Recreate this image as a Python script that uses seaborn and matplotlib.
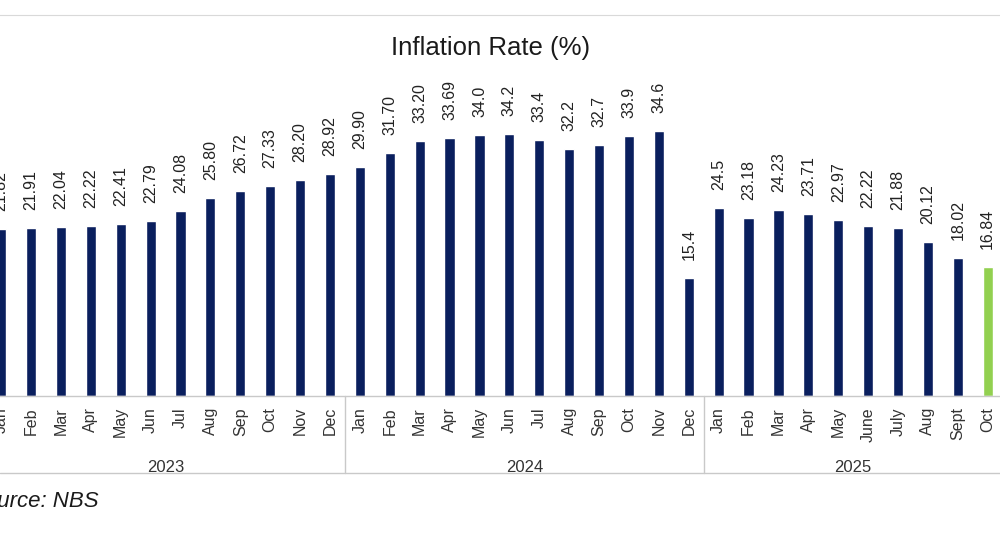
import numpy as np
import pandas as pd
import matplotlib.pyplot as plt
import seaborn as sns

# monthly headline inflation, %
years = ['2023', '2024', '2025']
months_2023 = ['Jan', 'Feb', 'Mar', 'Apr', 'May', 'Jun', 'Jul', 'Aug', 'Sep', 'Oct', 'Nov', 'Dec']
months_2024 = ['Jan', 'Feb', 'Mar', 'Apr', 'May', 'Jun', 'Jul', 'Aug', 'Sep', 'Oct', 'Nov', 'Dec']
months_2025 = ['Jan', 'Feb', 'Mar', 'Apr', 'May', 'June', 'July', 'Aug', 'Sept', 'Oct']
rates_2023 = ['21.82', '21.91', '22.04', '22.22', '22.41', '22.79', '24.08', '25.80', '26.72', '27.33', '28.20', '28.92']
rates_2024 = ['29.90', '31.70', '33.20', '33.69', '34.0', '34.2', '33.4', '32.2', '32.7', '33.9', '34.6', '15.4']
rates_2025 = ['24.5', '23.18', '24.23', '23.71', '22.97', '22.22', '21.88', '20.12', '18.02', '16.84']

navy = '#0a1f5e'
green = '#92d050'
grid_grey = '#c9c9c9'

months = months_2023 + months_2024 + months_2025
rate_txt = rates_2023 + rates_2024 + rates_2025
year_of = [years[0]] * len(months_2023) + [years[1]] * len(months_2024) + [years[2]] * len(months_2025)
keys = [f'{y}-{m}' for y, m in zip(year_of, months)]
data = pd.DataFrame({'key': keys, 'rate': [float(s) for s in rate_txt]})
colors = [navy] * (len(keys) - 1) + [green]   # latest month highlighted

sns.set_style('white')
plt.rcParams['font.family'] = ['Liberation Sans', 'DejaVu Sans']

fig = plt.figure(figsize=(10, 5.36), dpi=100)
ax = fig.add_axes([0, 140 / 536, 1, 381 / 536])

sns.barplot(data=data, x='key', y='rate', hue='key', palette=colors,
            width=0.34, saturation=1, legend=False, ax=ax)

# value labels
for i, (v, s) in enumerate(zip(data['rate'], rate_txt)):
    ax.annotate(s, (i, v), xytext=(0, 13), textcoords='offset points',
                rotation=90, ha='center', va='bottom', fontsize=11.5, color='#222222')

ax.set_xlim(-0.037, 33.41)
ax.set_ylim(0, 49.7)
ax.set_xticks(range(len(months)))
ax.set_xticklabels(months, rotation=90, fontsize=11.5, color='#333333')
ax.tick_params(axis='x', length=0, pad=8)
ax.set_yticks([])
ax.set_xlabel('')
ax.set_ylabel('')

for side in ['left', 'right']:
    ax.spines[side].set_visible(False)
ax.spines['bottom'].set_color(grid_grey)
ax.spines['top'].set_color('#d9d9d9')
ax.spines['bottom'].set_linewidth(1)

# year grouping under the month labels
trans = ax.get_xaxis_transform()
y_bot = -77 / 381
ax.plot([0, 1], [y_bot, y_bot], transform=ax.transAxes, color=grid_grey, lw=1, clip_on=False)
n1, n2, n3 = len(months_2023), len(months_2024), len(months_2025)
for sep in [n1 - 0.5, n1 + n2 - 0.5]:
    ax.plot([sep, sep], [0, y_bot], transform=trans, color=grid_grey, lw=1, clip_on=False)
starts = [0, n1, n1 + n2]
sizes = [n1, n2, n3]
for yr, st, sz in zip(years, starts, sizes):
    ax.text(st + (sz - 1) / 2, -75.5 / 381, yr, transform=trans, ha='center', va='baseline',
            fontsize=12, color='#333333')

fig.text(0.491, (536 - 55) / 536, 'Inflation Rate (%)', ha='center', va='baseline',
         fontsize=18.5, color='#1a1a1a')
fig.text(-0.03, (536 - 507) / 536, 'Source: NBS', ha='left', va='baseline',
         fontsize=16, style='italic', color='#1a1a1a')

fig.savefig('out.png', dpi=100)
